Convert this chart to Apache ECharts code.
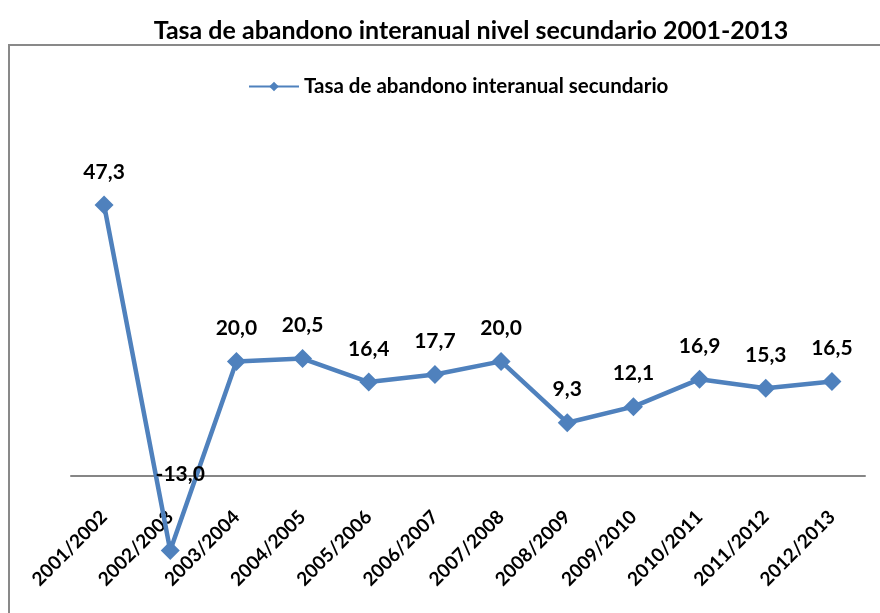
<!DOCTYPE html>
<html><head><meta charset="utf-8">
<script src="https://cdn.jsdelivr.net/npm/echarts@6/dist/echarts.min.js"></script>
<style>html,body{margin:0;padding:0;background:#fff}#c{width:880px;height:613px}</style>
</head><body><div id="c"></div>
<script>
const titleText = 'Tasa de abandono interanual nivel secundario 2001-2013';
const seriesName = 'Tasa de abandono interanual secundario';
const categories = ['2001/2002','2002/2003','2003/2004','2004/2005','2005/2006','2006/2007','2007/2008','2008/2009','2009/2010','2010/2011','2011/2012','2012/2013'];
const values = [47.3, -13.0, 20.0, 20.5, 16.4, 17.7, 20.0, 9.3, 12.1, 16.9, 15.3, 16.5];

const FONT = 'Lato';
const chart = echarts.init(document.getElementById('c'), null, {renderer:'canvas'});
const fmt = v => v.toFixed(1).replace('.', ',');
const data = values.map(v => {
  const d = {value: v};
  if (v < 0) d.label = {offset: [10, -43]};
  return d;
});
chart.setOption({
  animation: false,
  backgroundColor: '#fff',
  title: {
    text: titleText, left: 466, top: 13, textAlign: 'center',
    textStyle: {fontFamily: FONT, fontWeight: 'bold', fontSize: 25, color: '#000'}
  },
  legend: {
    left: 243, top: 71, itemWidth: 50, itemHeight: 12, itemGap: 10,
    textStyle: {fontFamily: FONT, fontWeight: 'bold', fontSize: 20.5, color: '#000'},
    data: [seriesName]
  },
  graphic: [{
    type: 'rect', shape: {x: 9, y: 45, width: 900, height: 600},
    style: {fill: 'none', stroke: '#898989', lineWidth: 2}, silent: true, z: -1
  }],
  grid: {left: 71, right: 15, top: 132.2, bottom: 137, outerBoundsMode: 'none'},
  xAxis: {
    type: 'category', data: categories, boundaryGap: true,
    axisLine: {lineStyle: {color: '#868686', width: 2}},
    axisTick: {show: false},
    axisLabel: {rotate: 45, margin: 38, interval: 0, fontFamily: FONT, fontWeight: 'bold', fontSize: 19, color: '#000'}
  },
  yAxis: {
    type: 'value', min: 0, max: 60, show: false, splitLine: {show: false}
  },
  series: [{
    name: seriesName, type: 'line', data: data, clip: false,
    symbol: 'diamond', symbolSize: 19,
    lineStyle: {color: '#4F81BD', width: 4.5},
    itemStyle: {color: '#4F81BD'},
    label: {show: true, position: 'top', distance: 13, formatter: p => fmt(p.value),
      fontFamily: FONT, fontWeight: 'bold', fontSize: 21, color: '#000'}
  }]
});
</script></body></html>
